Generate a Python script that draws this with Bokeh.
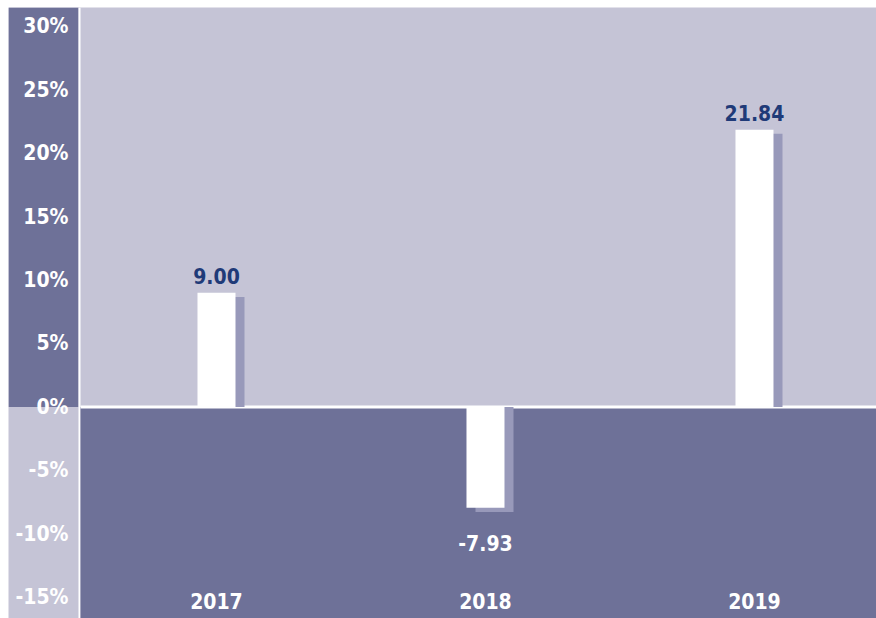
from bokeh.plotting import figure
from bokeh.models import (ColumnDataSource, FixedTicker, PrintfTickFormatter,
                          BoxAnnotation, Range1d)
from bokeh.core.properties import value
from bokeh.transform import dodge
from bokeh.embed import file_html
from bokeh.resources import INLINE

years = [2017, 2018, 2019]
returns = [9.00, -7.93, 21.84]
labels = ["9.00", "-7.93", "21.84"]
y_ticks = [-15, -10, -5, 0, 5, 10, 15, 20, 25, 30]

DARK = "#6e7198"
LIGHT = "#c5c4d6"
SHADOW = "#9899ba"
NAVY = "#1f3a78"
FONT = "DejaVu Sans Condensed"

src = ColumnDataSource(dict(
    x=years,
    y=returns,
    label=labels,
    color=[NAVY if v >= 0 else "white" for v in returns],
    yoff=[-17 if v >= 0 else 35 for v in returns],
    zero=[0] * len(years),
))

p = figure(width=868, height=611, output_backend="svg", toolbar_location=None,
           x_range=Range1d(2016.2268, 2019.4536), y_range=Range1d(-16.654, 31.457),
           min_border_left=0, min_border_right=0, min_border_top=0,
           min_border_bottom=0, margin=(7, 0, 0, 8))
p.background_fill_color = LIGHT
p.border_fill_color = DARK
p.outline_line_color = None
p.grid.visible = False

# axis column: dark above zero
p.add_layout(BoxAnnotation(right=70, right_units="canvas", bottom=0,
                           fill_color=DARK, fill_alpha=1, line_color=None, level="underlay"))
# white divider strip
p.add_layout(BoxAnnotation(left=70, right=72, left_units="canvas", right_units="canvas",
                           fill_color="white", fill_alpha=1, line_color=None, level="underlay"))
# plot area: dark below zero
p.add_layout(BoxAnnotation(left=72, left_units="canvas", top=0,
                           fill_color=DARK, fill_alpha=1, line_color=None, level="underlay"))
# zero line (plot area only)
p.add_layout(BoxAnnotation(left=72, left_units="canvas", top=0.12, bottom=-0.12,
                           fill_color="white", fill_alpha=1, line_color=None, level="underlay"))

bw = 0.1413
# shadows
p.vbar(x=dodge("x", 0.0335), width=bw, top=dodge("y", -0.33), bottom="zero",
       source=src, fill_color=SHADOW, line_color=None)
# bars
p.vbar(x="x", width=bw, top="y", bottom="zero", source=src,
       fill_color="white", line_color=None)

p.text(x="x", y="y", text="label", source=src, text_color="color",
       text_font=value(FONT), text_font_style="bold", text_font_size="21px",
       text_align="center", text_baseline="middle", y_offset="yoff")

# axes (labels drawn inside the frame)
p.yaxis.ticker = FixedTicker(ticks=y_ticks)
p.yaxis.formatter = PrintfTickFormatter(format="%d%%")
p.xaxis.ticker = FixedTicker(ticks=years)
for ax in (p.xaxis, p.yaxis):
    ax.axis_line_color = None
    ax.major_tick_line_color = None
    ax.minor_tick_line_color = None
    ax.major_tick_out = 0
    ax.major_tick_in = 0
    ax.minor_tick_out = 0
    ax.minor_tick_in = 0
    ax.major_label_text_color = "white"
    ax.major_label_text_font = FONT
    ax.major_label_text_font_style = "bold"
    ax.major_label_text_font_size = "21px"
p.yaxis.major_label_standoff = -60
p.xaxis.major_label_standoff = -26

open("out.html", "w").write(file_html(p, INLINE))
